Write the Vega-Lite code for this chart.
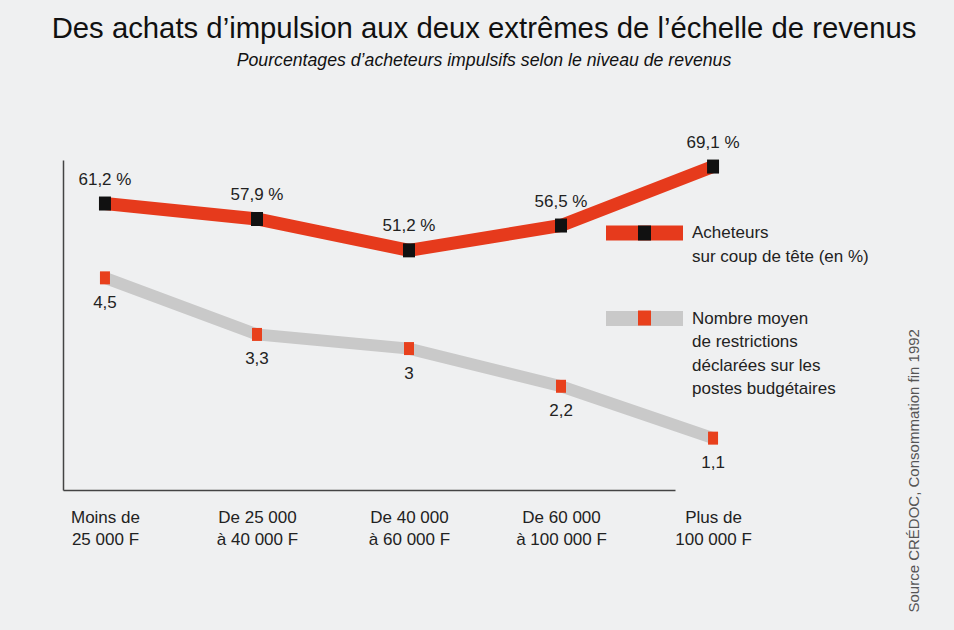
{
  "$schema": "https://vega.github.io/schema/vega-lite/v6.json",
  "width": 692,
  "height": 330,
  "autosize": {"type": "none"},
  "padding": {"left": 63, "top": 160, "right": 199, "bottom": 140},
  "background": "#eff0f1",
  "title": {
    "text": "Des achats d’impulsion aux deux extrêmes de l’échelle de revenus",
    "subtitle": "Pourcentages d’acheteurs impulsifs selon le niveau de revenus",
    "anchor": "middle",
    "dx": 75,
    "offset": 64,
    "fontSize": 29.3,
    "fontWeight": "normal",
    "color": "#111111",
    "subtitleFontSize": 17.7,
    "subtitleFontStyle": "italic",
    "subtitleColor": "#111111",
    "subtitlePadding": 8
  },
  "config": {
    "view": {"stroke": null},
    "font": "Liberation Sans"
  },
  "data": {
    "values": [
      {"revenu": "Moins de|25 000 F", "groupe": "acheteurs", "serie": "Acheteurs|sur coup de tête (en %)", "valeur": 61.2, "etiquette": "61,2 %"},
      {"revenu": "De 25 000|à 40 000 F", "groupe": "acheteurs", "serie": "Acheteurs|sur coup de tête (en %)", "valeur": 57.9, "etiquette": "57,9 %"},
      {"revenu": "De 40 000|à 60 000 F", "groupe": "acheteurs", "serie": "Acheteurs|sur coup de tête (en %)", "valeur": 51.2, "etiquette": "51,2 %"},
      {"revenu": "De 60 000|à 100 000 F", "groupe": "acheteurs", "serie": "Acheteurs|sur coup de tête (en %)", "valeur": 56.5, "etiquette": "56,5 %"},
      {"revenu": "Plus de|100 000 F", "groupe": "acheteurs", "serie": "Acheteurs|sur coup de tête (en %)", "valeur": 69.1, "etiquette": "69,1 %"},
      {"revenu": "Moins de|25 000 F", "groupe": "restrictions", "serie": "Nombre moyen|de restrictions|déclarées sur les|postes budgétaires", "valeur": 4.5, "etiquette": "4,5"},
      {"revenu": "De 25 000|à 40 000 F", "groupe": "restrictions", "serie": "Nombre moyen|de restrictions|déclarées sur les|postes budgétaires", "valeur": 3.3, "etiquette": "3,3"},
      {"revenu": "De 40 000|à 60 000 F", "groupe": "restrictions", "serie": "Nombre moyen|de restrictions|déclarées sur les|postes budgétaires", "valeur": 3, "etiquette": "3"},
      {"revenu": "De 60 000|à 100 000 F", "groupe": "restrictions", "serie": "Nombre moyen|de restrictions|déclarées sur les|postes budgétaires", "valeur": 2.2, "etiquette": "2,2"},
      {"revenu": "Plus de|100 000 F", "groupe": "restrictions", "serie": "Nombre moyen|de restrictions|déclarées sur les|postes budgétaires", "valeur": 1.1, "etiquette": "1,1"}
    ]
  },
  "encoding": {
    "x": {
      "field": "revenu",
      "type": "ordinal",
      "sort": null,
      "scale": {"type": "point", "padding": 0.276},
      "axis": {
        "title": null,
        "domain": true,
        "domainColor": "#444444",
        "domainWidth": 1.5,
        "domainDash": [612, 400],
        "ticks": false,
        "tickSize": 0,
        "grid": false,
        "labelPadding": 19,
        "labelAngle": 0,
        "labelExpr": "split(datum.label, '|')",
        "labelFontSize": 17,
        "labelColor": "#222222",
        "labelLineHeight": 22,
        "labelOverlap": false
      }
    }
  },
  "layer": [
    {
      "transform": [{"filter": "datum.groupe == 'acheteurs'"}],
      "encoding": {
        "y": {
          "field": "valeur",
          "type": "quantitative",
          "scale": {"domain": [0, 70.5], "nice": false, "zero": true},
          "axis": {"orient": "left", "domain": true, "domainColor": "#444444", "domainWidth": 1.5, "ticks": false, "labels": false, "grid": false, "title": null}
        }
      },
      "layer": [
        {
          "mark": {"type": "line", "strokeWidth": 13, "strokeJoin": "miter", "strokeCap": "butt"},
          "encoding": {
            "color": {
              "field": "serie",
              "type": "nominal",
              "scale": {"range": ["#e63a1c", "#c9c9c9"]},
              "legend": {
                "orient": "none",
                "legendX": 535.5,
                "legendY": 27,
                "title": null,
                "symbolType": "stroke",
                "symbolSize": 5929,
                "symbolStrokeWidth": 15,
                "labelExpr": "split(datum.label, '|')",
                "labelFontSize": 17,
                "labelColor": "#222222",
                "labelOffset": 1.5,
                "labelLimit": 300,
                "rowPadding": 7.5,
                "zindex": 0,
                "encoding": {"labels": {"lineHeight": {"value": 23.5}}}
              }
            }
          }
        },
        {
          "mark": {"type": "point", "shape": "M-0.857,-1H0.857V1H-0.857Z", "size": 196, "filled": true, "opacity": 1, "strokeWidth": 0},
          "encoding": {
            "fill": {
              "field": "groupe",
              "type": "nominal",
              "scale": {"range": ["#111111", "#e8401c"]},
              "legend": {
                "orient": "none",
                "legendX": 535.5,
                "legendY": 27,
                "title": null,
                "symbolType": "M-0.1413,-0.163H0.1413V0.163H-0.1413Z",
                "symbolSize": 8464,
                "symbolStrokeWidth": 0,
                "labelExpr": "''",
                "labelFontSize": 17,
                "rowPadding": 31,
                "zindex": 1
              }
            }
          }
        },
        {
          "mark": {"type": "text", "dy": -24, "fontSize": 17, "color": "#222222"},
          "encoding": {"text": {"field": "etiquette"}}
        }
      ]
    },
    {
      "transform": [{"filter": "datum.groupe == 'restrictions'"}],
      "encoding": {
        "y": {
          "field": "valeur",
          "type": "quantitative",
          "scale": {"domain": [0, 7], "nice": false, "zero": true},
          "axis": {
            "orient": "right",
            "domain": false,
            "ticks": false,
            "labels": false,
            "grid": false,
            "title": "Source CRÉDOC, Consommation fin 1992",
            "titleAngle": 270,
            "titleAlign": "left",
            "titleBaseline": "middle",
            "titleX": 158,
            "titleY": 452,
            "titleFontSize": 15,
            "titleFontWeight": "normal",
            "titleColor": "#555555"
          }
        }
      },
      "layer": [
        {
          "mark": {"type": "line", "strokeWidth": 12, "strokeJoin": "miter", "strokeCap": "butt"},
          "encoding": {"color": {"field": "serie", "type": "nominal"}}
        },
        {
          "mark": {"type": "point", "shape": "M-0.77,-1H0.77V1H-0.77Z", "size": 169, "filled": true, "opacity": 1, "strokeWidth": 0},
          "encoding": {"fill": {"field": "groupe", "type": "nominal"}}
        },
        {
          "mark": {"type": "text", "dy": 25, "fontSize": 17, "color": "#222222"},
          "encoding": {"text": {"field": "etiquette"}}
        }
      ]
    }
  ],
  "resolve": {"scale": {"y": "independent"}}
}
